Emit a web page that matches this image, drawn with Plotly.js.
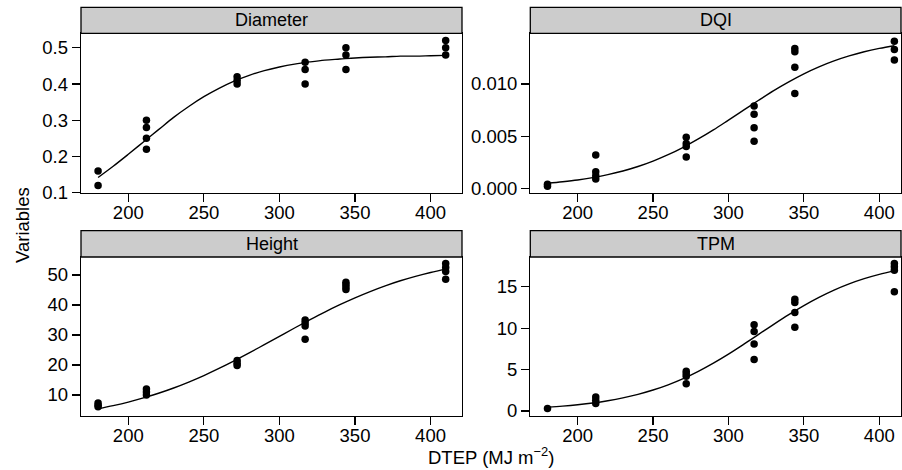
<!DOCTYPE html>
<html>
<head>
<meta charset="utf-8">
<script src="https://cdn.plot.ly/plotly-3.0.1.min.js"></script>
<style>html,body{margin:0;padding:0;background:#fff;}#chart{width:902px;height:470px;}</style>
</head>
<body>
<div id="chart"></div>
<script>
// ---- data ----
const panelNames = ["Diameter", "DQI", "Height", "TPM"];

const diameterX = [180,180, 212,212,212,212, 272,272,272, 317,317,317, 344,344,344, 410,410,410];
const diameterY = [0.16,0.12, 0.30,0.28,0.25,0.22, 0.42,0.41,0.40, 0.46,0.44,0.40, 0.50,0.48,0.44, 0.52,0.50,0.48];

const dqiX = [180,180, 212,212,212,212, 272,272,272,272, 317,317,317,317, 344,344,344,344, 410,410,410];
const dqiY = [0.0004,0.0002, 0.0032,0.0016,0.0012,0.0009, 0.0049,0.0043,0.0040,0.0030, 0.0079,0.0071,0.0058,0.0045, 0.0134,0.0131,0.0116,0.0091, 0.0141,0.0133,0.0123];

const heightX = [180,180,180, 212,212,212, 272,272,272, 317,317,317,317, 344,344,344,344, 410,410,410,410];
const heightY = [7.3,6.6,6.1, 12.0,11.0,10.0, 21.5,20.6,19.8, 35.0,34.0,33.0,28.6, 47.6,46.8,46.0,45.2, 53.8,52.5,51.2,48.6];

const tpmX = [180, 212,212,212, 272,272,272,272, 317,317,317,317, 344,344,344,344, 410,410,410,410];
const tpmY = [0.3, 1.7,1.3,0.9, 4.8,4.5,4.2,3.3, 10.4,9.6,8.1,6.2, 13.5,13.1,11.9,10.1, 17.8,17.4,17.0,14.4];

// fitted curves
const curveX = [180,190,200,210,220,230,240,250,260,270,280,290,300,310,320,330,340,350,360,370,380,390,400,410];
const diameterFit = [0.142,0.173,0.206,0.240,0.274,0.308,0.338,0.365,0.388,0.408,0.424,0.437,0.447,0.455,0.461,0.466,0.469,0.472,0.474,0.475,0.477,0.477,0.478,0.479];
const dqiFit = [0.00049,0.00063,0.00080,0.00103,0.00131,0.00166,0.00209,0.00261,0.00322,0.00393,0.00473,0.00560,0.00654,0.00749,0.00844,0.00936,0.01020,0.01097,0.01164,0.01221,0.01269,0.01309,0.01341,0.01367];
const heightFit = [5.43,6.46,7.64,9.02,10.58,12.34,14.32,16.48,18.85,21.38,24.03,26.78,29.56,32.33,35.04,37.65,40.11,42.40,44.49,46.39,48.07,49.55,50.85,51.97];
const tpmFit = [0.45,0.59,0.76,0.97,1.24,1.58,2.01,2.53,3.16,3.91,4.79,5.78,6.87,8.04,9.25,10.46,11.63,12.72,13.71,14.59,15.34,15.97,16.49,16.91];

const xTicks = [200,250,300,350,400];
const diameterTicks = [0.1,0.2,0.3,0.4,0.5];
const dqiTicks = [0.000,0.005,0.010];
const heightTicks = [10,20,30,40,50];
const tpmTicks = [0,5,10,15];

// ---- layout geometry (pixels) ----
const W = 902, H = 470;
const px = v => v / W, py = v => 1 - v / H;
const cols = [[81, 462], [530.3, 901]];
const rows = [{strip: [7.3, 33.3], plot: [33.3, 192.7]}, {strip: [230.7, 257], plot: [257, 415.7]}];

const font = "Liberation Sans, Arial, Helvetica, sans-serif";
const pts = [[diameterX, diameterY], [dqiX, dqiY], [heightX, heightY], [tpmX, tpmY]];
const fits = [diameterFit, dqiFit, heightFit, tpmFit];
const yTicks = [diameterTicks, dqiTicks, heightTicks, tpmTicks];
const yRanges = [[0.1, 0.54], [-0.00042, 0.01486], [3.1, 56], [-0.57, 18.59]];
const xRanges = [[168.7, 420.8], [168.6, 414.4], [168.7, 420.8], [168.6, 414.4]];

const data = [];
const layout = {
  width: W, height: H,
  margin: {l: 0, r: 0, t: 0, b: 0},
  paper_bgcolor: "#fff", plot_bgcolor: "#fff",
  showlegend: false,
  font: {family: font, color: "#000", size: 18},
  shapes: [], annotations: []
};

for (let i = 0; i < 4; i++) {
  const r = rows[Math.floor(i / 2)], c = cols[i % 2];
  const xa = "x" + (i === 0 ? "" : i + 1), ya = "y" + (i === 0 ? "" : i + 1);
  const xk = "xaxis" + (i === 0 ? "" : i + 1), yk = "yaxis" + (i === 0 ? "" : i + 1);
  data.push({x: curveX, y: fits[i], xaxis: xa, yaxis: ya, mode: "lines", type: "scatter",
             line: {color: "#000", width: 1.4, shape: "spline"}, hoverinfo: "skip"});
  data.push({x: pts[i][0], y: pts[i][1], xaxis: xa, yaxis: ya, mode: "markers", type: "scatter",
             marker: {color: "#000", size: 7.5}});
  layout[xk] = {domain: [px(c[0]), px(c[1])], range: xRanges[i], anchor: ya,
    tickmode: "array", tickvals: xTicks, ticks: "outside", ticklen: 8, tickwidth: 1.2, tickcolor: "#000",
    ticklabelstandoff: -5,
    showline: true, linecolor: "#000", linewidth: 1.3, mirror: true, showgrid: false, zeroline: false,
    tickfont: {size: 18.5, family: font, color: "#000"}, fixedrange: true};
  layout[yk] = {domain: [py(r.plot[1]), py(r.plot[0])], range: yRanges[i], anchor: xa,
    tickmode: "array", tickvals: yTicks[i], ticks: "outside", ticklen: 8, tickwidth: 1.2, tickcolor: "#000",
    tickformat: i === 1 ? ".3f" : (i === 0 ? ".1f" : "d"),
    showline: true, linecolor: "#000", linewidth: 1.3, mirror: true, showgrid: false, zeroline: false,
    tickfont: {size: 18.5, family: font, color: "#000"}, fixedrange: true};
  layout.shapes.push({type: "rect", xref: "paper", yref: "paper",
    x0: px(c[0]), x1: px(c[1]), y0: py(r.strip[1]), y1: py(r.strip[0]),
    fillcolor: "#cccccc", line: {color: "#000", width: 1.3}});
  layout.annotations.push({xref: "paper", yref: "paper", x: (px(c[0]) + px(c[1])) / 2,
    y: (py(r.strip[0]) + py(r.strip[1])) / 2, text: panelNames[i], showarrow: false,
    xanchor: "center", yanchor: "middle", font: {size: 18, family: font, color: "#000"}});
}

layout.annotations.push({xref: "paper", yref: "paper", x: px(22), y: py(225), text: "Variables",
  textangle: -90, showarrow: false, xanchor: "center", yanchor: "middle",
  font: {size: 18.5, family: font, color: "#000"}});
layout.annotations.push({xref: "paper", yref: "paper", x: px(491), y: py(456),
  text: "DTEP (MJ m<sup>\u22122</sup>)", showarrow: false, xanchor: "center", yanchor: "middle",
  font: {size: 18.5, family: font, color: "#000"}});

Plotly.newPlot("chart", data, layout, {staticPlot: true, displayModeBar: false});
</script>
</body>
</html>
